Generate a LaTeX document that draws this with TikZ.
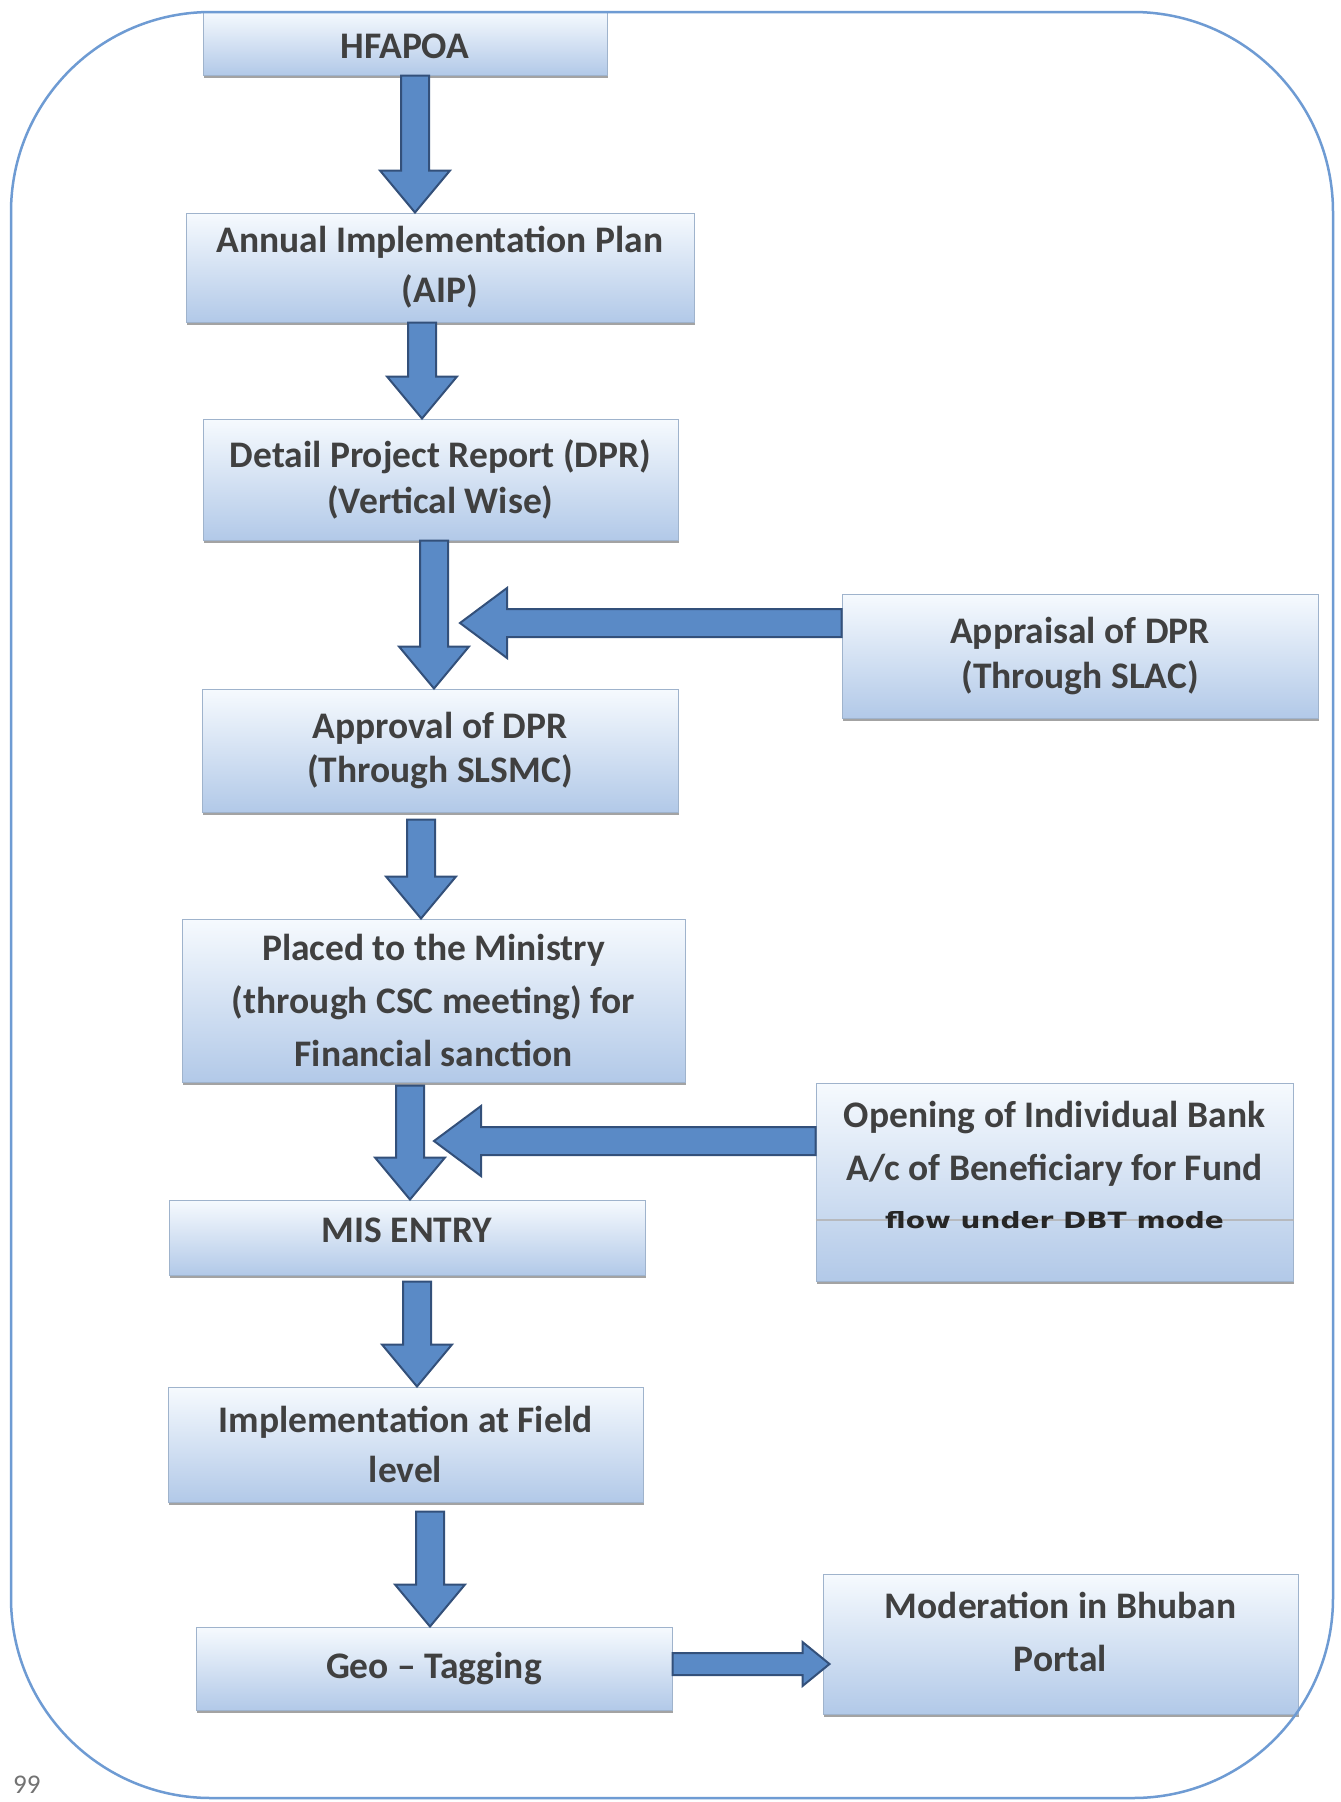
\documentclass[tikz,border=0pt]{standalone}
\usepackage{fontspec}
\setmainfont{Carlito}
\newfontfamily\flowfont{DejaVu Sans}
\usetikzlibrary{calc,shadows}
\definecolor{framecol}{HTML}{6E9BD3}
\definecolor{boxtop}{HTML}{F6FAFE}
\definecolor{boxbot}{HTML}{B2C9E8}
\definecolor{boxedge}{HTML}{9FB3CC}
\definecolor{arrowfill}{HTML}{5A8AC6}
\definecolor{arrowedge}{HTML}{33507A}
\definecolor{txt}{HTML}{404040}
\tikzset{
  box/.style={draw=boxedge, line width=1pt, top color=boxtop, bottom color=boxbot,
    drop shadow={shadow xshift=0.5pt, shadow yshift=-2.5pt, fill=black!60, opacity=0.6},
    text=txt, font=\fontsize{37.5}{50}\selectfont\bfseries, align=center, inner sep=0pt},
  boxtext/.style={text=txt, font=\fontsize{37.5}{50}\selectfont\bfseries, align=center, inner sep=0pt},
  blockarrow/.style={draw=arrowedge, line width=2pt, fill=arrowfill, line join=miter},
  vblock/.style={blockarrow, to path={let \p1=(\tikztostart), \p2=(\tikztotarget) in
     ({\x1-14pt},{\y1}) -- ({\x1-14pt},{\y2+42pt}) -- ({\x1-35pt},{\y2+42pt}) -- ({\x1},{\y2})
     -- ({\x1+35pt},{\y2+42pt}) -- ({\x1+14pt},{\y2+42pt}) -- ({\x1+14pt},{\y1}) -- cycle}},
  hlblock/.style={blockarrow, to path={let \p1=(\tikztostart), \p2=(\tikztotarget) in
     ({\x1},{\y1-14pt}) -- ({\x2+47pt},{\y1-14pt}) -- ({\x2+47pt},{\y1-35pt}) -- ({\x2},{\y1})
     -- ({\x2+47pt},{\y1+35pt}) -- ({\x2+47pt},{\y1+14pt}) -- ({\x1},{\y1+14pt}) -- cycle}},
  hrblock/.style={blockarrow, to path={let \p1=(\tikztostart), \p2=(\tikztotarget) in
     ({\x1},{\y1-11pt}) -- ({\x2-27pt},{\y1-11pt}) -- ({\x2-27pt},{\y1-22pt}) -- ({\x2},{\y1})
     -- ({\x2-27pt},{\y1+22pt}) -- ({\x2-27pt},{\y1+11pt}) -- ({\x1},{\y1+11pt}) -- cycle}},
  framestyle/.style={draw=framecol, line width=2.5pt, rounded corners=200pt}
}
\begin{document}
\begin{tikzpicture}[x=1pt,y=-1pt]
\useasboundingbox[fill=white] (0,0) rectangle (1341,1802);

% boxes
\node[box, minimum width=404pt, minimum height=64pt] (hfapoa) at (405,43) {};
\node[boxtext] (hfapoatext) at (405,46) {HFAPOA};
\node[box, minimum width=508pt, minimum height=109pt] (aip) at (440,267.5) {Annual Implementation Plan\\(AIP)};
\node[box, minimum width=475pt, minimum height=121pt] (dpr) at (440.5,479.5) {Detail Project Report (DPR)\\[-4pt](Vertical Wise)};
\node[box, minimum width=476pt, minimum height=124pt] (appraisal) at (1080,656) {Appraisal of DPR\\[-5pt](Through SLAC)};
\node[box, minimum width=476pt, minimum height=123pt] (approval) at (440,750.5) {Approval of DPR\\[-6pt](Through SLSMC)};
\node[box, minimum width=503pt, minimum height=163pt] (placed) at (433.5,1000.5) {Placed to the Ministry\\[3pt](through CSC meeting) for\\[3pt]Financial sanction};
\node[box, minimum width=476pt, minimum height=75pt] (mis) at (407,1237.5) {};
\node[boxtext] (mistext) at (407,1230) {MIS ENTRY};
\node[box, minimum width=477pt, minimum height=198pt] (bank) at (1054.5,1182) {};
\draw[line width=2.5pt, draw=black!30, opacity=0.8] ([yshift=-38pt]bank.west) -- ([yshift=-38pt]bank.east);
\node[boxtext] (banktext) at (1054.5,1143.5) {Opening of Individual Bank\\[3pt]A/c of Beneficiary for Fund};
\node[text=black!85, inner sep=0pt] (bankflow) at (1054.5,1220) {\scalebox{1}[0.8]{\flowfont\bfseries\fontsize{28}{28}\selectfont flow under DBT mode}};
\node[box, minimum width=475pt, minimum height=115pt] (impl) at (405.5,1444.5) {Implementation at Field\\level};
\node[box, minimum width=476pt, minimum height=83pt] (geo) at (434,1668.5) {Geo -- Tagging};
\node[box, minimum width=475pt, minimum height=140pt] (moderation) at (1060.5,1644) {};
\node[boxtext] (modtext) at (1060.5,1632) {Moderation in Bhuban\\[3pt]Portal};

% connectors
\coordinate (tipA) at (460,623);
\coordinate (tipB) at (434,1141);
\draw[vblock] ([xshift=10pt]hfapoa.south) to (aip.north);
\draw[vblock] ([xshift=-18pt]aip.south) to (dpr.north);
\draw[vblock] ([xshift=-6.5pt]dpr.south) to (approval.north);
\draw[hlblock] ([yshift=33pt]appraisal.west) to (tipA);
\draw[vblock] ([xshift=-19pt,yshift=-7pt]approval.south) to (placed.north);
\draw[vblock] ([xshift=-23.5pt,yshift=-3pt]placed.south) to (mis.north);
\draw[hlblock] ([yshift=41pt]bank.west) to (tipB);
\draw[vblock] ([xshift=10pt,yshift=-6pt]mis.south) to (impl.north);
\draw[vblock] ([xshift=24.5pt,yshift=-9pt]impl.south) to (geo.north);
\draw[hrblock] ([yshift=4.5pt]geo.east) to ([xshift=7pt,yshift=4.5pt]moderation.west);

% outer frame
\draw[framestyle] (11,12) rectangle (1333,1798);
\node[anchor=west, text=black!55, font=\fontsize{27}{27}\selectfont, inner sep=0pt] (pagenum) at (13,1785) {99};
\end{tikzpicture}
\end{document}
